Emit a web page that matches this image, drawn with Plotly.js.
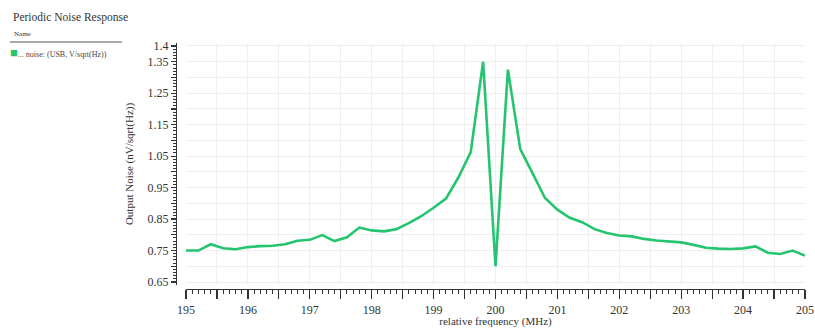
<!DOCTYPE html>
<html>
<head>
<meta charset="utf-8">
<script src="https://cdn.plot.ly/plotly-3.0.1.min.js"></script>
<style>html,body{margin:0;padding:0;background:#fff;}#chart{width:815px;height:328px;}</style>
</head>
<body>
<div id="chart"></div>
<script>
// relative frequency (MHz)
var freq = [195.0,195.2,195.4,195.6,195.8,196.0,196.2,196.4,196.6,196.8,
            197.0,197.2,197.4,197.6,197.8,198.0,198.2,198.4,198.6,198.8,
            199.0,199.2,199.4,199.6,199.8,200.0,200.2,200.4,200.6,200.8,
            201.0,201.2,201.4,201.6,201.8,202.0,202.2,202.4,202.6,202.8,
            203.0,203.2,203.4,203.6,203.8,204.0,204.2,204.4,204.6,204.8,205.0];
// output noise (nV/sqrt(Hz))
var noise = [0.750,0.750,0.770,0.757,0.754,0.761,0.764,0.765,0.770,0.781,
             0.784,0.799,0.780,0.792,0.823,0.814,0.811,0.818,0.837,0.859,
             0.886,0.915,0.982,1.063,1.350,0.700,1.325,1.072,0.995,0.917,
             0.880,0.854,0.840,0.818,0.806,0.798,0.795,0.787,0.782,0.780,
             0.776,0.768,0.759,0.756,0.755,0.757,0.763,0.743,0.739,0.750,0.734];
var seriesName = '... noise: (USB, V/sqrt(Hz))';
var xTickVals = [195,195.5,196,196.5,197,197.5,198,198.5,199,199.5,200,200.5,201,201.5,202,202.5,203,203.5,204,204.5,205];
var xTickText = ['195','','196','','197','','198','','199','','200','','201','','202','','203','','204','','205'];
var yTickVals = [0.65,0.7,0.75,0.8,0.85,0.9,0.95,1.0,1.05,1.1,1.15,1.2,1.25,1.3,1.35,1.4];
var yTickText = ['0.65','','0.75','','0.85','','0.95','','1.05','','1.15','','1.25','','1.35','1.4'];

var serif = 'Liberation Serif, DejaVu Serif, serif';
var green = '#25c46f';

var trace = {
  x: freq, y: noise, type: 'scatter', mode: 'lines', name: seriesName,
  line: {color: green, width: 2.6}, showlegend: false
};

var layout = {
  width: 815, height: 328,
  margin: {l: 176, r: 10, t: 40, b: 39},
  paper_bgcolor: '#ffffff', plot_bgcolor: '#ffffff',
  font: {family: serif, color: '#333', size: 12},
  title: {text: 'Periodic Noise Response', x: 13/815, xanchor: 'left', xref: 'container',
          y: 1 - 17/328, yanchor: 'middle', yref: 'container',
          font: {family: serif, size: 11.5, color: '#333'}},
  xaxis: {
    domain: [10/629, 1], anchor: 'free', position: 0,
    range: [195, 205], tickmode: 'array', tickvals: xTickVals, ticktext: xTickText,
    showgrid: true, gridcolor: '#efefef', gridwidth: 1, zeroline: false,
    showline: true, linecolor: '#333', linewidth: 1.2,
    ticks: 'outside', ticklen: 9, tickwidth: 1.2, tickcolor: '#333',
    minor: {dtick: 0.1, tick0: 0, ticklen: 4, tickwidth: 1, tickcolor: '#333', showgrid: false},
    tickfont: {family: serif, size: 12, color: '#333'},
    title: {text: 'relative frequency (MHz)', standoff: 6, font: {family: serif, size: 11, color: '#333'}},
    automargin: false
  },
  yaxis: {
    domain: [4/249, 246/249], anchor: 'free', position: 0,
    range: [0.6405, 1.4095], tickmode: 'array', tickvals: yTickVals, ticktext: yTickText,
    showgrid: true, gridcolor: '#efefef', gridwidth: 1, zeroline: false,
    showline: true, linecolor: '#333', linewidth: 1.2,
    ticks: 'outside', ticklen: 5, tickwidth: 1.2, tickcolor: '#333',
    minor: {dtick: 0.01, tick0: 0, ticklen: 3, tickwidth: 1, tickcolor: '#333', showgrid: false},
    tickfont: {family: serif, size: 12, color: '#333'},
    title: {text: 'Output Noise (nV/sqrt(Hz))', standoff: 10, font: {family: serif, size: 11, color: '#333'}},
    automargin: false
  },
  shapes: [
    {type: 'line', xref: 'paper', yref: 'paper', x0: -166/629, x1: -54/629, y0: (289-42)/249, y1: (289-42)/249,
     line: {color: '#555', width: 1}}
  ],
  annotations: [
    {text: 'Name', xref: 'paper', yref: 'paper', x: -164/629, y: (289-34)/249, xanchor: 'left', yanchor: 'middle',
     showarrow: false, font: {family: serif, size: 7, color: '#333'}},
    {text: '<span style="color:' + green + ';font-size:13px">■</span>' + seriesName, xref: 'paper', yref: 'paper',
     x: -168/629, y: (289-52)/249, xanchor: 'left', yanchor: 'middle',
     showarrow: false, font: {family: serif, size: 8, color: '#444'}}
  ]
};

Plotly.newPlot('chart', [trace], layout, {displayModeBar: false, staticPlot: true});
</script>
</body>
</html>
